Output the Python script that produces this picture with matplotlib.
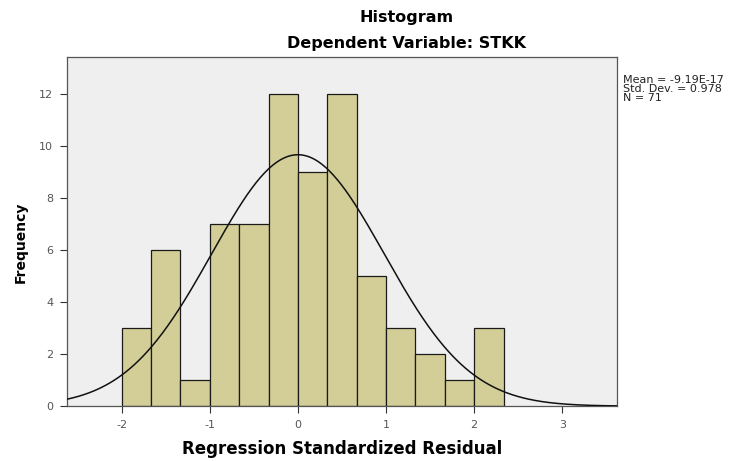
import numpy as np
import matplotlib.pyplot as plt

plt.rcParams['axes.unicode_minus'] = False

# bin edges (width 1/3) and counts
bin_left = [-2.0, -1.667, -1.333, -1.0, -0.667, -0.333, 0.0, 0.333, 0.667, 1.0, 1.333, 1.667, 2.0]
counts = [3, 6, 1, 7, 7, 12, 9, 12, 5, 3, 2, 1, 3]
bin_width = 1 / 3

mean = -9.19e-17
std = 0.978
n = 71

x_ticks = [-2, -1, 0, 1, 2, 3]
y_ticks = [0, 2, 4, 6, 8, 10, 12]

fig = plt.figure(figsize=(7.37, 4.61), dpi=100)
ax = fig.add_axes([0.091, 0.119, 0.746, 0.757])
ax.set_facecolor('#EFEFEF')

ax.bar(bin_left, counts, width=bin_width, align='edge',
       color='#D3CE97', edgecolor='#1a1a1a', linewidth=0.9, zorder=2)

# normal curve scaled to the counts
xs = np.linspace(-2.62, 3.62, 400)
pdf = np.exp(-0.5 * ((xs - mean) / std) ** 2) / (std * np.sqrt(2 * np.pi))
ax.plot(xs, n * bin_width * pdf, color='#111111', linewidth=1.1, zorder=3)

ax.set_xlim(-2.62, 3.62)
ax.set_ylim(0, 13.4)
ax.set_xticks(x_ticks)
ax.set_yticks(y_ticks)
ax.tick_params(direction='out', length=5, width=0.8, colors='#333333',
               labelsize=8, labelcolor='#555555', pad=5)
for s in ax.spines.values():
    s.set_color('#555555')
    s.set_linewidth(0.9)

ax.set_xlabel('Regression Standardized Residual', fontsize=12, fontweight='bold', labelpad=7)
ax.set_ylabel('Frequency', fontsize=10, fontweight='bold')
ax.yaxis.set_label_coords(-0.072, 0.47)

fig.text(0.551, 0.963, 'Histogram', ha='center', va='center', fontsize=11.5, fontweight='bold')
fig.text(0.551, 0.905, 'Dependent Variable: STKK', ha='center', va='center', fontsize=11.5, fontweight='bold')

fig.text(0.845, 0.838, 'Mean = -9.19E-17\nStd. Dev. = 0.978\nN = 71',
         ha='left', va='top', fontsize=8, linespacing=0.9, color='#222222')

fig.savefig('out.png', dpi=100)
